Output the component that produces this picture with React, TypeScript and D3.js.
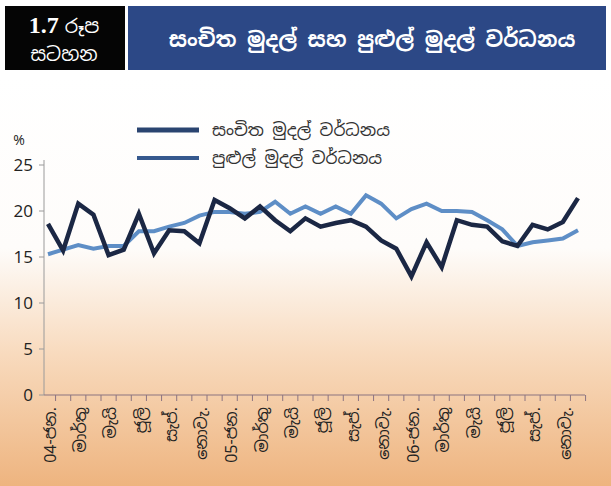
import React, { useEffect, useRef } from "react";
import * as d3 from "d3";

// months Jan 2004 .. Dec 2006
const monthLabels = [
  "04-ජන.", "", "මාර්තු", "", "මැයි", "", "ජූලි", "", "සැප්.", "", "නොවැ.", "",
  "05-ජන.", "", "මාර්තු", "", "මැයි", "", "ජූලි", "", "සැප්.", "", "නොවැ.", "",
  "06-ජන.", "", "මාර්තු", "", "මැයි", "", "ජූලි", "", "සැප්.", "", "නොවැ.", "",
];

// reserve money growth (%)
const reserveMoney = [
  18.6, 15.7, 20.8, 19.6, 15.2, 15.8, 19.7, 15.4, 17.9, 17.8, 16.5, 21.2,
  20.3, 19.2, 20.5, 19.0, 17.8, 19.2, 18.3, 18.7, 19.0, 18.3, 16.8, 15.9,
  12.9, 16.6, 13.9, 19.0, 18.5, 18.3, 16.7, 16.2, 18.5, 18.0, 18.8, 21.4,
];

// broad money growth (%)
const broadMoney = [
  15.3, 15.8, 16.3, 15.9, 16.2, 16.2, 17.8, 17.8, 18.3, 18.7, 19.5, 19.9,
  19.9, 19.7, 19.9, 21.0, 19.7, 20.5, 19.7, 20.5, 19.7, 21.7, 20.8, 19.2,
  20.2, 20.8, 20.0, 20.0, 19.9, 19.0, 18.0, 16.2, 16.6, 16.8, 17.0, 17.9,
];

const yTicks = [0, 5, 10, 15, 20, 25];
const seriesNames = ["සංචිත මුදල් වර්ධනය", "පුළුල් මුදල් වර්ධනය"];
const figNo = ["1.7", "රූප", "සටහන"];
const title = "සංචිත මුදල් සහ පුළුල් මුදල් වර්ධනය";

const W = 611;
const H = 486;
const SIN = "'Noto Sans Sinhala', 'Iskoola Pota', 'Noto Sans', sans-serif";

export default function App() {
  const ref = useRef<SVGSVGElement>(null);

  useEffect(() => {
    const svg = d3.select(ref.current);
    svg.selectAll("*").remove();

    const defs = svg.append("defs");
    const grad = defs
      .append("linearGradient")
      .attr("id", "bg")
      .attr("x1", 0)
      .attr("y1", 0)
      .attr("x2", 0)
      .attr("y2", 1);
    grad.append("stop").attr("offset", "0").attr("stop-color", "#ffffff");
    grad.append("stop").attr("offset", "0.42").attr("stop-color", "#fefcfa");
    grad.append("stop").attr("offset", "0.68").attr("stop-color", "#f8dabd");
    grad.append("stop").attr("offset", "1").attr("stop-color", "#eeb47f");

    svg.append("rect").attr("width", W).attr("height", H).attr("fill", "#fff");
    svg
      .append("rect")
      .attr("y", 76)
      .attr("width", W)
      .attr("height", H - 76)
      .attr("fill", "url(#bg)");

    // header
    svg.append("rect").attr("x", 5).attr("y", 6).attr("width", 120).attr("height", 64).attr("fill", "#050505");
    svg.append("rect").attr("x", 128).attr("y", 6).attr("width", 478).attr("height", 64).attr("fill", "#2c4886");
    const fig = svg
      .append("text")
      .attr("x", 64)
      .attr("y", 33)
      .attr("text-anchor", "middle")
      .attr("fill", "#fff");
    fig
      .append("tspan")
      .style("font-family", "'Liberation Serif', serif")
      .style("font-size", "24px")
      .style("font-weight", "bold")
      .text(figNo[0] + " ");
    fig
      .append("tspan")
      .style("font-family", SIN)
      .style("font-size", "19px")
      .text(figNo[1]);
    svg
      .append("text")
      .attr("x", 64)
      .attr("y", 61)
      .attr("text-anchor", "middle")
      .attr("fill", "#fff")
      .style("font-family", SIN)
      .style("font-size", "19px")
      .text(figNo[2]);
    svg
      .append("text")
      .attr("x", 372)
      .attr("y", 47)
      .attr("text-anchor", "middle")
      .attr("fill", "#fff")
      .style("font-family", SIN)
      .style("font-size", "21px")
      .style("font-weight", "bold")
      .text(title);

    // scales
    const x = d3
      .scalePoint<number>()
      .domain(d3.range(monthLabels.length))
      .range([48, 578]);
    const step = x.step();
    const y = d3.scaleLinear().domain([0, 25]).range([395, 165]);

    // axes
    svg
      .append("line")
      .attr("x1", 44)
      .attr("x2", 44)
      .attr("y1", 160)
      .attr("y2", 395)
      .attr("stroke", "#9a9a9a");
    yTicks.forEach((t) => {
      svg
        .append("line")
        .attr("x1", 39)
        .attr("x2", 44)
        .attr("y1", y(t))
        .attr("y2", y(t))
        .attr("stroke", "#9a9a9a");
      svg
        .append("text")
        .attr("x", 33)
        .attr("y", y(t))
        .attr("dy", "0.36em")
        .attr("text-anchor", "end")
        .attr("fill", "#222")
        .style("font-family", "'Open Sans', sans-serif")
        .style("font-size", "17px")
        .text(t);
    });
    svg
      .append("text")
      .attr("x", 19)
      .attr("y", 145)
      .attr("text-anchor", "middle")
      .attr("fill", "#222")
      .style("font-family", "'Open Sans', sans-serif")
      .style("font-size", "14px")
      .text("%");

    svg
      .append("line")
      .attr("x1", 44)
      .attr("x2", 585)
      .attr("y1", 395)
      .attr("y2", 395)
      .attr("stroke", "#8c7480")
      .attr("stroke-width", 1.2);
    d3.range(monthLabels.length + 1).forEach((i) => {
      const tx = 48 + (i - 0.5) * step;
      if (tx < 44 || tx > 586) return;
      svg
        .append("line")
        .attr("x1", tx)
        .attr("x2", tx)
        .attr("y1", 395)
        .attr("y2", 401)
        .attr("stroke", "#8c7480");
    });
    monthLabels.forEach((lab, i) => {
      if (!lab) return;
      svg
        .append("text")
        .attr("transform", `translate(${(x(i) as number) + 2},407) rotate(-90)`)
        .attr("dy", "0.36em")
        .attr("text-anchor", "end")
        .attr("fill", "#222")
        .style("font-family", SIN)
        .style("font-size", "16px")
        .text(lab);
    });

    // lines
    const line = d3
      .line<number>()
      .x((_, i) => x(i) as number)
      .y((d) => y(d));
    svg
      .append("path")
      .datum(broadMoney)
      .attr("d", line)
      .attr("fill", "none")
      .attr("stroke", "#5e8ec6")
      .attr("stroke-width", 4)
      .attr("stroke-linejoin", "miter");
    svg
      .append("path")
      .datum(reserveMoney)
      .attr("d", line)
      .attr("fill", "none")
      .attr("stroke", "#1b2744")
      .attr("stroke-width", 4.5)
      .attr("stroke-linejoin", "miter");

    // legend
    const legend = [
      { name: seriesNames[0], color: "#2a4470", w: 5, yy: 130 },
      { name: seriesNames[1], color: "#36598e", w: 4, yy: 158 },
    ];
    legend.forEach((l) => {
      svg
        .append("line")
        .attr("x1", 137)
        .attr("x2", 199)
        .attr("y1", l.yy)
        .attr("y2", l.yy)
        .attr("stroke", l.color)
        .attr("stroke-width", l.w);
      svg
        .append("text")
        .attr("x", 212)
        .attr("y", l.yy)
        .attr("dy", "0.36em")
        .attr("fill", "#333")
        .style("font-family", SIN)
        .style("font-size", "17px")
        .text(l.name);
    });
  }, []);

  return (
    <svg
      ref={ref}
      width={W}
      height={H}
      style={{ position: "absolute", left: 0, top: 0 }}
    />
  );
}
